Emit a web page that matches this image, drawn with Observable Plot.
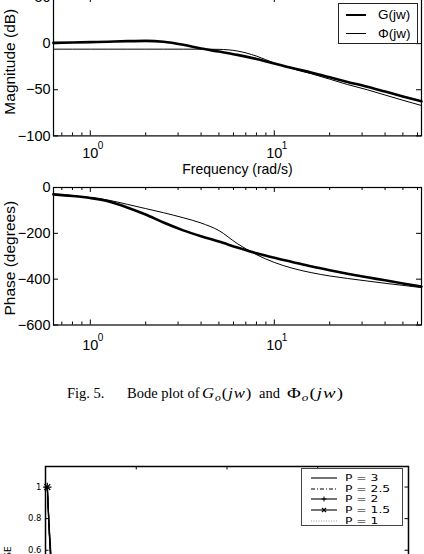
<!DOCTYPE html>
<html>
<head>
<meta charset="utf-8">
<script src="https://cdn.jsdelivr.net/npm/d3@7"></script>
<script src="https://cdn.jsdelivr.net/npm/@observablehq/plot@0.6"></script>
<style>
html, body { margin: 0; padding: 0; background: #fff; overflow: hidden; }
#page { position: relative; width: 424px; height: 554px; overflow: hidden; background: #fff; }
#page > * { position: absolute; }
.legend { box-sizing: border-box; background: #fff; }
.legend > * { position: absolute; }
.caption { font-family: 'Liberation Serif', 'Times New Roman', serif; font-size: 14.5px; line-height: 1; white-space: nowrap; color: #000; }
.caption > span { display: inline-block; }
.caption .m > span { display: inline-block; transform-origin: left center; letter-spacing: 0.8px; }
.caption sub { font-size: 70%; vertical-align: -3px; line-height: 0; }
</style>
</head>
<body>
<div id="page"></div>
<script>
// ---------- Data ----------
// Bode plot: frequencies (rad/s)
const freq = [0.63, 0.8, 1, 1.25, 1.6, 2, 2.5, 3.2, 4, 5, 6.3, 8, 10, 12.5, 16, 20, 25, 32, 40, 50, 63];
// Magnitude (dB)
const magG   = [0.8, 1.2, 1.6, 2.1, 2.7, 3, 2, -1.3, -5.3, -8.6, -12.2, -16.6, -21.5, -26.5, -31.5, -36.5, -41.5, -46.8, -52, -57.2, -62.5];
const magPhi = [-6, -6, -6, -6, -6, -6, -6, -6, -6, -6.2, -8, -13.5, -21, -27, -32.8, -38.5, -44.3, -50, -55.7, -61.4, -67];
// Phase (degrees)
const phaseG   = [-30, -37, -46, -60, -88, -118, -153, -187, -213, -236, -262, -287, -307, -325, -345, -361, -376, -392, -405, -419, -432];
const phasePhi = [-30, -36, -44, -55, -74, -92, -110, -132, -155, -188, -245, -293, -327, -352, -372, -386, -397, -408, -418, -427, -437];
// Axis ticks
const majorFreqTicks = [1, 10];
const freqTickExp = ["0", "1"];
const minorFreqTicks = [0.7, 0.8, 0.9, 2, 3, 4, 5, 6, 7, 8, 9, 20, 30, 40, 50, 60];
const magTicks = [-100, -50, 0, 50];
const phaseTicks = [-600, -400, -200, 0];
const legendBode = ["G(jw)", "\u03A6(jw)"];

// Second figure (partially visible): error vs iterations for several P
const iters = [1, 2, 3, 4, 5, 7, 10, 15, 20, 30, 50, 75, 100, 150, 200];
const errP3  = [1.0, 0.72, 0.50, 0.36, 0.27, 0.17, 0.11, 0.07, 0.05, 0.035, 0.025, 0.020, 0.017, 0.015, 0.014];
const errP25 = [1.0, 0.73, 0.52, 0.38, 0.29, 0.19, 0.12, 0.08, 0.06, 0.042, 0.030, 0.024, 0.020, 0.018, 0.017];
const errP2  = [1.0, 0.74, 0.54, 0.40, 0.31, 0.20, 0.13, 0.09, 0.07, 0.050, 0.036, 0.029, 0.025, 0.022, 0.020];
const errP15 = [1.0, 0.75, 0.56, 0.43, 0.34, 0.23, 0.15, 0.11, 0.085, 0.062, 0.046, 0.037, 0.032, 0.028, 0.026];
const errP1  = [1.0, 0.77, 0.60, 0.47, 0.38, 0.27, 0.19, 0.14, 0.11, 0.082, 0.062, 0.050, 0.044, 0.039, 0.036];
const pLabels = ["P = 3", "P = 2.5", "P = 2", "P = 1.5", "P = 1"];
const iterTicks = [50, 100, 150];
const errTicks = [0, 0.2, 0.4, 0.6, 0.8, 1];

// ---------- Helpers ----------
const page = document.getElementById("page");
const FONT = "'Liberation Sans', Arial, Helvetica, sans-serif";
const fmt = d => d < 0 ? "\u2212" + Math.abs(d) : String(d);
function place(el, left, top) { el.style.left = left + "px"; el.style.top = top + "px"; page.appendChild(el); return el; }

// ---------- Bode chart builder ----------
function bode({data, keyG, keyP, yDomain, yTicks, frameH, mTop, labelY, labelDy, xlab, xlabDy, tenDy, expDy}) {
  const fw = 368, mBottom = 52;
  const marks = [
    Plot.line(data, {x: "f", y: keyP, stroke: "black", strokeWidth: 1, curve: "monotone-x"}),
    Plot.line(data, {x: "f", y: keyG, stroke: "black", strokeWidth: 2.6, curve: "monotone-x"}),
    Plot.frame({stroke: "black", strokeWidth: 1.2}),
    Plot.tickX(majorFreqTicks, {x: d => d, insetTop: frameH - 5}),
    Plot.tickX(minorFreqTicks, {x: d => d, insetTop: frameH - 3}),
    Plot.tickX(majorFreqTicks, {x: d => d, insetBottom: frameH - 5}),
    Plot.tickX(minorFreqTicks, {x: d => d, insetBottom: frameH - 3}),
    Plot.tickY(yTicks, {y: d => d, insetRight: fw - 5}),
    Plot.tickY(yTicks, {y: d => d, insetLeft: fw - 5}),
    Plot.text(yTicks, {y: d => d, frameAnchor: "left", dx: -3, textAnchor: "end", lineAnchor: "middle", fontSize: 14.5, text: fmt}),
    Plot.text(majorFreqTicks, {x: d => d, frameAnchor: "bottom", dy: tenDy, textAnchor: "middle", lineAnchor: "middle", fontSize: 14.5, text: () => "10"}),
    Plot.text(majorFreqTicks, {x: d => d, frameAnchor: "bottom", dx: 7.5, dy: expDy, textAnchor: "start", lineAnchor: "middle", fontSize: 10, text: (d, i) => freqTickExp[i]}),
    Plot.text([labelY], {frameAnchor: "left", rotate: -90, dx: -43, dy: labelDy, textAnchor: "middle", lineAnchor: "middle", fontSize: 15.5, text: d => d})
  ];
  if (xlab) marks.push(Plot.text([xlab], {frameAnchor: "bottom", dy: xlabDy, textAnchor: "middle", lineAnchor: "middle", fontSize: 14, text: d => d}));
  return Plot.plot({
    width: 424, height: mTop + frameH + mBottom,
    marginLeft: 53, marginRight: 3, marginTop: mTop, marginBottom: mBottom,
    style: {fontFamily: FONT, fontSize: "14px", background: "transparent", color: "black", overflow: "visible"},
    x: {type: "log", domain: [10 ** -0.2, 10 ** 1.8], axis: null},
    y: {domain: yDomain, axis: null},
    marks
  });
}

const bodeData = freq.map((f, i) => ({f, mg: magG[i], mp: magPhi[i], pg: phaseG[i], pp: phasePhi[i]}));

// Magnitude
const chartA = bode({data: bodeData, keyG: "mg", keyP: "mp", yDomain: [-100, 50], yTicks: magTicks,
  frameH: 138.4, mTop: 14, labelY: "Magnitude (dB)", labelDy: -5,
  xlab: "Frequency (rad/s)", xlabDy: 34, tenDy: 17.5, expDy: 9.5});
place(chartA, 0, -3.4 - 14);

// Phase
const chartB = bode({data: bodeData, keyG: "pg", keyP: "pp", yDomain: [-600, 0], yTicks: phaseTicks,
  frameH: 137.5, mTop: 14, labelY: "Phase (degrees)", labelDy: 2,
  xlab: null, tenDy: 20, expDy: 12.5});
place(chartB, 0, 186.5 - 14);

// Bode legend
(function () {
  const box = document.createElement("div");
  box.className = "legend";
  box.style.cssText += "width:80px;height:41px;border:1px solid #222;";
  const widths = [2.6, 1];
  const rows = [11, 29.5];
  legendBode.forEach((t, i) => {
    const ln = document.createElement("div");
    ln.style.cssText = `left:7px;top:${rows[i] - widths[i] / 2}px;width:20px;height:${widths[i]}px;background:#000;`;
    box.appendChild(ln);
    const tx = document.createElement("div");
    tx.textContent = t;
    tx.style.cssText = `left:39px;top:${rows[i] - 8}px;font-family:${FONT};font-size:13.5px;line-height:16px;color:#000;white-space:nowrap;`;
    box.appendChild(tx);
  });
  place(box, 338, 3);
})();

// Caption
(function () {
  const cap = document.createElement("div");
  cap.className = "caption";
  cap.innerHTML =
    '<span style="width:60px">Fig. 5.</span>' +
    '<span style="width:75px">Bode plot of</span>' +
    '<span class="m" style="width:57px"><span style="transform:scaleX(1.15)"><i>G</i><sub><i>o</i></sub>(<i>jw</i>)</span></span>' +
    '<span style="width:28px">and</span>' +
    '<span class="m" style="width:72px"><span style="transform:scaleX(1.3)">\u03A6<sub><i>o</i></sub>(<i>jw</i>)</span></span>';
  place(cap, 67, 386);
})();

// ---------- Second figure ----------
(function () {
  const fw = 363, fh = 1.13 * 158, mTop = 10, mBottom = 30;
  const CFONT = "'DejaVu Sans', Verdana, sans-serif";
  const series = [
    {v: errP3,  stroke: "#000", dash: null, sym: null},
    {v: errP25, stroke: "#000", dash: "4,2,1,2", sym: null},
    {v: errP2,  stroke: "#000", dash: null, sym: "plus"},
    {v: errP15, stroke: "#000", dash: null, sym: "times"},
    {v: errP1,  stroke: "#999", dash: "1,1.5", sym: null}
  ];
  const marks = [];
  series.slice().reverse().forEach(s => {
    const d = iters.map((t, i) => ({t, v: s.v[i]}));
    marks.push(Plot.line(d, {x: "t", y: "v", stroke: s.stroke, strokeWidth: 1.2, strokeDasharray: s.dash}));
    if (s.sym) marks.push(Plot.dot(d.filter(p => p.t === 1 || p.t % 50 === 0), {x: "t", y: "v", symbol: s.sym, r: 2.8, stroke: s.stroke, strokeWidth: 1.2}));
  });
  marks.push(
    Plot.frame({stroke: "black", strokeWidth: 1.5}),
    Plot.tickX(iterTicks, {x: d => d, insetBottom: fh - 3.5}),
    Plot.tickX(iterTicks, {x: d => d, insetTop: fh - 3.5}),
    Plot.tickY(errTicks, {y: d => d, insetRight: fw - 3.5}),
    Plot.tickY(errTicks, {y: d => d, insetLeft: fw - 3.5}),
    Plot.text(errTicks, {y: d => d, frameAnchor: "left", dx: -4, textAnchor: "end", lineAnchor: "middle", fontSize: 8.5, ariaLabel: "ytick", text: d => String(d)}),
    Plot.text(["MSE"], {frameAnchor: "left", rotate: -90, dx: -37.5, dy: -9.5, textAnchor: "end", lineAnchor: "middle", fontSize: 9, text: d => d})
  );
  const chartC = Plot.plot({
    width: 424, height: mTop + fh + mBottom,
    marginLeft: 45, marginRight: 16, marginTop: mTop, marginBottom: mBottom,
    style: {fontFamily: CFONT, fontSize: "9px", background: "transparent", color: "black", overflow: "visible"},
    x: {domain: [0, 200], axis: null},
    y: {domain: [0, 1.13], axis: null},
    marks
  });
  place(chartC, 0, 466.2 - mTop);
  // widen the tick label glyphs (the second figure's font is horizontally stretched)
  d3.select(chartC).selectAll('g[aria-label="ytick"] text').each(function () {
    const x = +(this.getAttribute("x") || 0), y = +(this.getAttribute("y") || 0);
    const t = this.getAttribute("transform") || "";
    this.setAttribute("transform", `${t} translate(${x},${y}) scale(1.7,1) translate(${-x},${-y})`);
  });

  // Legend
  const box = document.createElement("div");
  box.className = "legend";
  box.style.cssText += "width:102px;height:58px;border:1px solid #444;";
  const rows = [8.7, 19.5, 29.9, 40.8, 51.6];
  pLabels.forEach((t, i) => {
    const s = series[i];
    const svg = d3.create("svg").attr("width", 30).attr("height", 8)
      .style("left", "7px").style("top", (rows[i] - 4) + "px");
    svg.append("line").attr("x1", 2).attr("x2", 28).attr("y1", 4).attr("y2", 4)
      .attr("stroke", s.stroke).attr("stroke-width", 1.1).attr("stroke-dasharray", s.dash);
    if (s.sym === "plus") svg.append("path").attr("d", "M15,1.5V6.5M12.5,4H17.5").attr("stroke", "#000").attr("fill", "none");
    if (s.sym === "times") svg.append("path").attr("d", "M13,2L17,6M17,2L13,6").attr("stroke", "#000").attr("stroke-width", 1.3).attr("fill", "none");
    box.appendChild(svg.node());
    const tx = document.createElement("div");
    tx.textContent = t;
    tx.style.cssText = `left:43px;top:${rows[i] - 6}px;font-family:${CFONT};font-size:8.5px;line-height:12px;color:#000;white-space:nowrap;transform:scaleX(1.45);transform-origin:left center;`;
    box.appendChild(tx);
  });
  place(box, 301, 468);
})();
</script>
</body>
</html>
